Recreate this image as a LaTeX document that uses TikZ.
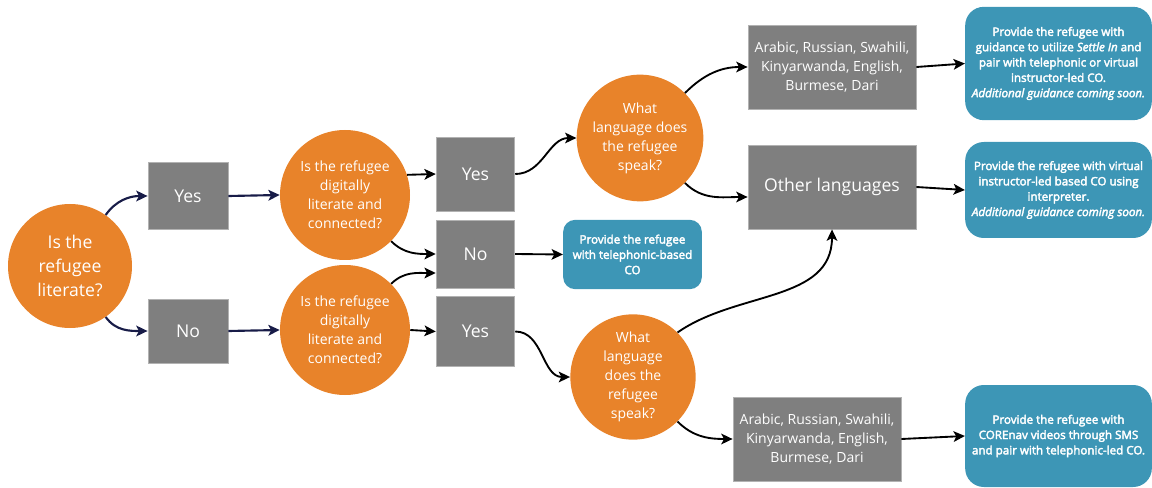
\documentclass[tikz,border=0pt]{standalone}
\usepackage{fontspec}
\setmainfont{Open Sans}
\newfontfamily\semib[FakeBold=3]{Open Sans}
\usetikzlibrary{arrows.meta,calc}
\definecolor{qorange}{RGB}{232,131,42}
\definecolor{bgray}{RGB}{127,127,127}
\definecolor{cblue}{RGB}{61,150,182}
\definecolor{navy}{RGB}{24,28,72}
\tikzset{
  question/.style={circle, fill=qorange, text=white, inner sep=0pt, align=center},
  gbox/.style={rectangle, fill=bgray, draw=gray!60, line width=0.6pt, text=white, inner sep=0pt, align=center},
  bbox/.style={rectangle, rounded corners=14pt, fill=cblue, text=white, inner sep=0pt, align=center,
     font=\semib\fontsize{8.7}{11.5}\selectfont},
  arr/.style={-{Stealth[length=8.5pt,width=8pt,inset=2pt]}, line width=1.4pt, draw=black},
  navyarr/.style={arr, draw=navy, line width=1.6pt},
  big/.style={font=\fontsize{13.2}{18}\selectfont},
  mid/.style={font=\fontsize{10.5}{14.2}\selectfont}
}
\begin{document}
\begin{tikzpicture}[x=0.75pt,y=0.75pt]
\path[use as bounding box] (0,0) rectangle (1152,-488);
% questions
\node[question, big, minimum size=93pt] (A) at (70,-266) {Is the\\refugee\\literate?};
\node[question, mid, minimum size=97.5pt] (B) at (345,-195) {Is the refugee\\digitally\\literate and\\connected?};
\node[question, mid, minimum size=97.5pt] (C) at (345,-330) {Is the refugee\\digitally\\literate and\\connected?};
\node[question, mid, minimum size=95pt] (D) at (640,-138) {What\\language does\\the refugee\\speak?};
\node[question, mid, minimum size=94pt] (E) at (633,-377) {What\\language\\does the\\refugee\\speak?};
% gray boxes
\node[gbox, big, minimum width=60pt, minimum height=50pt] (Yes1) at (188,-196) {Yes};
\node[gbox, big, minimum width=60pt, minimum height=48pt] (No1) at (188,-331) {No};
\node[gbox, big, minimum width=59pt, minimum height=55.5pt] (Yes2) at (475.5,-174) {Yes};
\node[gbox, big, minimum width=59pt, minimum height=51pt] (No2) at (475.5,-254) {No};
\node[gbox, big, minimum width=59pt, minimum height=53pt] (Yes3) at (475.5,-331.5) {Yes};
\node[gbox, mid, minimum width=126pt, minimum height=63pt] (L1) at (832,-67) {Arabic, Russian, Swahili,\\Kinyarwanda, English,\\Burmese, Dari};
\node[gbox, big, minimum width=126pt, minimum height=63pt] (Other) at (832,-187) {Other languages};
\node[gbox, mid, minimum width=126pt, minimum height=63pt] (L3) at (817,-439) {Arabic, Russian, Swahili,\\Kinyarwanda, English,\\Burmese, Dari};
% blue boxes
\node[bbox, rounded corners=9pt, minimum width=104pt, minimum height=52pt] (BS) at (632.5,-254.5) {Provide the refugee\\with telephonic-based\\CO};
\node[bbox, minimum width=140pt, minimum height=85pt] (Bl1) at (1058.5,-63.5) {Provide the refugee with\\guidance to utilize \textit{Settle In} and\\pair with telephonic or virtual\\instructor-led CO.\\\textit{Additional guidance coming soon.}};
\node[bbox, minimum width=140pt, minimum height=72pt] (Bl2) at (1058.5,-190) {Provide the refugee with virtual\\instructor-led based CO using\\interpreter.\\\textit{Additional guidance coming soon.}};
\node[bbox, minimum width=140pt, minimum height=76.5pt] (Bl3) at (1058.5,-436) {Provide the refugee with\\COREnav videos through SMS\\and pair with telephonic-led CO.};
% connectors
\draw[navyarr] (A.55) to[out=55,in=180] (Yes1.west);
\draw[navyarr] (A.-55) to[out=-55,in=180] (No1.west);
\draw[navyarr] (Yes1.east) -- (B.west);
\draw[navyarr] (No1.east) -- (C.west);
\draw[arr] (B.18) -- (Yes2.west);
\draw[arr] (B.-45) to[out=-45,in=180] (No2.west);
\draw[arr] (C.45) to[out=45,in=180] ($(No2.west)+(0,-19)$);
\draw[arr] (C.east) -- (Yes3.west);
\draw[arr] (Yes2.east) to[out=0,in=180] (D.west);
\draw[arr] (Yes3.east) to[out=0,in=180] (E.west);
\draw[arr] (D.45) to[out=45,in=180] (L1.west);
\draw[arr] (D.-45) to[out=-45,in=180] ($(Other.west)+(0,-10)$);
\draw[arr] (E.45) to[out=35,in=-90] (Other.south);
\draw[arr] (E.-45) to[out=-45,in=180] (L3.west);
\draw[arr] (No2.east) -- (BS.west);
\draw[arr] (L1.east) -- (Bl1.west);
\draw[arr] (Other.east) -- (Bl2.west);
\draw[arr] (L3.east) -- (Bl3.west);
\end{tikzpicture}
\end{document}
